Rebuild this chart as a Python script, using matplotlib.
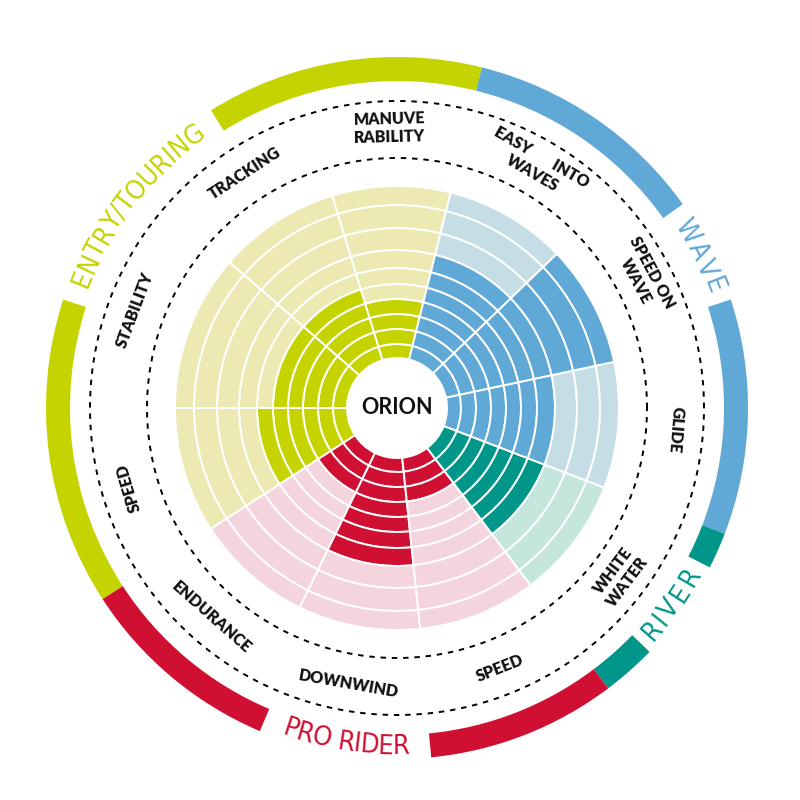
import numpy as np
import matplotlib
matplotlib.use('Agg')
import matplotlib.pyplot as plt
from matplotlib import font_manager

# sectors, counter-clockwise starting at the top
labels = ['MANUVE\nRABILITY', 'TRACKING', 'STABILITY', 'SPEED', 'ENDURANCE',
          'DOWNWIND', 'SPEED', 'WHITE\nWATER', 'GLIDE', 'SPEED ON\nWAVE',
          'EASY       INTO\nWAVES']
scores = [4, 5, 5, 6, 3, 7, 3, 7, 7, 10, 7]
groups = ['entry', 'entry', 'entry', 'entry', 'pro', 'pro', 'pro',
          'river', 'wave', 'wave', 'wave']
edges_deg = [76, 107, 139, 180, 213, 244, 276, 307, 339, 372, 404, 436]
n_levels = 10

group_names = {'entry': 'ENTRY/TOURING', 'wave': 'WAVE', 'river': 'RIVER', 'pro': 'PRO RIDER'}
# where the group name cuts the outer band (degrees), and how much of it the text uses
name_gaps = {'entry': (122, 162), 'wave': (18, 35.5), 'river': (316, 333), 'pro': (247, 275.6)}
name_spans = {'entry': 34, 'wave': 14, 'river': 14.5, 'pro': 21.5}

dark = {'entry': '#c5d400', 'wave': '#60a8d6', 'river': '#00968a', 'pro': '#d01032'}
pale = {'entry': '#ece9b2', 'wave': '#c5dee6', 'river': '#c5e6dc', 'pro': '#f5d5dd'}

# layout (pixels)
ring_r = [50, 64, 79, 94, 109, 124, 140, 158, 180, 203, 222]
dash_r = [250, 307]
label_r = 280
band_in, band_out = 327, 351
cx, cy, R = 397, 408, 360

# a condensed face for the group names, if one is installed
best = None
for f in font_manager.fontManager.ttflist:
    fn = f.fname.lower().replace('-', '').replace('_', '')
    if f.style != 'normal' or not ('condensed' in fn or 'narrow' in fn):
        continue
    if 'extracondensed' in fn or 'ultracondensed' in fn:
        rank = 2
    elif 'semicondensed' in fn:
        rank = 1
    else:
        rank = 0
    try:
        w = int(f.weight)
    except ValueError:
        w = 400
    key = (rank, abs(w - 380))
    if best is None or key < best[0]:
        best = (key, f.fname)
if best is not None:
    cond = font_manager.FontProperties(fname=best[1], size=19.5)
else:
    cond = font_manager.FontProperties(family='DejaVu Sans', size=17)

names = {f.name for f in font_manager.fontManager.ttflist}
lab_family = 'Lato' if 'Lato' in names else 'DejaVu Sans'

fig = plt.figure(figsize=(8, 8), dpi=100)
fig.patch.set_facecolor('white')
ax = fig.add_axes([(cx - R) / 800, (800 - cy - R) / 800, 2 * R / 800, 2 * R / 800],
                  projection='polar')
ax.set_ylim(0, R)
ax.set_axis_off()

# rings
for i in range(len(labels)):
    t0 = np.radians(edges_deg[i])
    t1 = np.radians(edges_deg[i + 1])
    for k in range(n_levels):
        c = dark[groups[i]] if k < scores[i] else pale[groups[i]]
        ax.bar(t0, ring_r[k + 1] - ring_r[k], width=t1 - t0, bottom=ring_r[k],
               align='edge', color=c, edgecolor='white', linewidth=1.4)

# dashed guide circles
th = np.linspace(0, 2 * np.pi, 721)
for r in dash_r:
    ax.plot(th, np.full_like(th, r), color='black', lw=1.4, ls=(0, (2.8, 3)))

# sector labels
for i, lab in enumerate(labels):
    mid = (edges_deg[i] + edges_deg[i + 1]) / 2
    rot = (mid - 90 + 180) % 360 - 180
    if rot > 110:
        rot -= 180
    elif rot < -110:
        rot += 180
    ax.text(np.radians(mid), label_r, lab, rotation=rot, rotation_mode='anchor',
            ha='center', va='center', family=lab_family, weight='heavy',
            fontsize=11.5, linespacing=1.15, color='#111111')

ax.text(0, 0, 'ORION', ha='center', va='center', family=lab_family,
        weight='bold', fontsize=15.5, color='#111111')

# outer group bands
for g in group_names:
    idx = [i for i in range(len(groups)) if groups[i] == g]
    a0, a1 = edges_deg[idx[0]], edges_deg[idx[-1] + 1]
    g0, g1 = name_gaps[g]
    while g0 < a0:
        g0 += 360
        g1 += 360
    for s, e in ((a0, g0), (g1, a1)):
        ax.bar(np.radians(s), band_out - band_in, width=np.radians(e - s),
               bottom=band_in, align='edge', color=dark[g], linewidth=0)

renderer = fig.canvas.get_renderer()


def measure(s):
    t = fig.text(0, 0, s, fontproperties=cond)
    w = t.get_window_extent(renderer).width
    t.remove()
    return w


def curved_text(s, mid_deg, r, color, outward, span_deg):
    base = measure('II')
    widths = [measure('I' + ch + 'I') - base for ch in s]
    natural = np.degrees(sum(widths) / r)
    stretch = max(span_deg / natural, 0.95)
    sign = -1 if outward else 1
    start = mid_deg - sign * natural * stretch / 2
    acc = 0
    for ch, w in zip(s, widths):
        a = start + sign * stretch * np.degrees((acc + w / 2) / r)
        acc += w
        rot = a - 90 if outward else a + 90
        ax.text(np.radians(a), r, ch, rotation=rot, rotation_mode='anchor',
                ha='center', va='center', color=color, fontproperties=cond)


for g, name in group_names.items():
    g0, g1 = name_gaps[g]
    outward = g in ('entry', 'wave')
    curved_text(name, (g0 + g1) / 2, (band_in + band_out) / 2, dark[g], outward,
                name_spans[g])

fig.savefig('out.png', dpi=100, facecolor='white')
